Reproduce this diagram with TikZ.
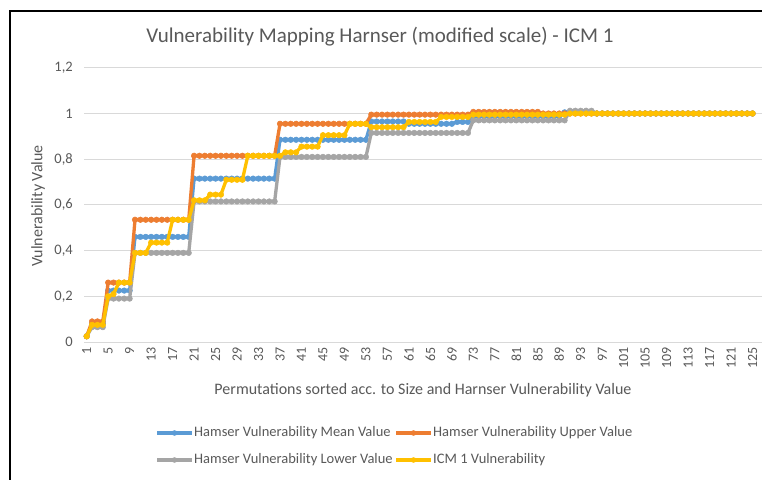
\documentclass[tikz,border=0pt]{standalone}
\usepackage{fontspec}
\setmainfont{Carlito}
\definecolor{cblue}{HTML}{5B9BD5}
\definecolor{corange}{HTML}{ED7D31}
\definecolor{cgray}{HTML}{A5A5A5}
\definecolor{cyellow}{HTML}{FFC000}
\definecolor{ctext}{HTML}{595959}
\definecolor{cgrid}{HTML}{D9D9D9}

% Expand a list of runs first/last/value into a coordinate list
\def\mkseries#1#2{%
  \gdef\tmplist{}%
  \foreach \a/\b/\v in {#2}{%
    \foreach \i in {\a,...,\b}{%
      \xdef\tmplist{\tmplist (\i,\v)}%
    }%
  }%
  \global\let#1\tmplist
}
% Draw one series as a thick line with round markers
\def\drawseries#1#2{%
  \edef\tmpcmd{\noexpand\draw[series,#2] plot[mark=*,mark size=2.8pt,
    mark options={line width=0.5pt,fill=#2}] coordinates {#1};}%
  \tmpcmd
}
% category spacing and left edge of the plot area
\def\catw{5.37}
\def\plotx{84}

\begin{document}
\begin{tikzpicture}[x=1pt,y=1pt,
  series/.style={line width=3.3pt,line join=round},
  gridline/.style={cgrid,line width=0.9pt},
  ticklbl/.style={text=ctext,inner sep=0pt,font=\fontsize{14}{16}\selectfont},
  axtitle/.style={text=ctext,inner sep=0pt,font=\fontsize{16}{19}\selectfont},
  legtext/.style={text=ctext,inner sep=0pt,anchor=west,font=\fontsize{14.5}{17}\selectfont},
  legline/.style={line width=3.2pt}]
\useasboundingbox (0,0) rectangle (762,479);
\fill[white] (0,0) rectangle (762,479);

% outer frame (left and top edges)
\draw[line width=2pt] (10,-2) -- (10,468) -- (764,468);

% title
\node[text=ctext,inner sep=0pt,font=\fontsize{21}{25}\selectfont] (title) at (380,442)
  {Vulnerability Mapping Harnser (modified scale) - ICM 1};

% horizontal gridlines and value labels
\foreach \v/\t [count=\k] in {0/0,0.2/{0,2},0.4/{0,4},0.6/{0,6},0.8/{0,8},1/1,1.2/{1,2}}{
  \draw[gridline] (\plotx,{137+228.5*\v}) -- (762,{137+228.5*\v});
  \node[ticklbl,font=\fontsize{14.5}{17}\selectfont,anchor=east] (yl\k) at (73,{137+228.5*\v}) {\t};
}

% category labels
\foreach \i in {1,5,...,125}{
  \node[ticklbl,rotate=90,anchor=east] (xl\i) at ({\plotx+(\i-0.5)*\catw},132) {\i};
}

% axis titles
\node[axtitle] (xtitle) at (423,89)
  {Permutations sorted acc. to Size and Harnser Vulnerability Value};
\node[axtitle,rotate=90] (ytitle) at (38,273) {Vulnerability Value};

% data series
\mkseries\seriesmean{1/1/0.025,2/4/0.08,5/9/0.225,10/20/0.46,21/36/0.715,37/53/0.885,
  54/60/0.965,61/69/0.955,70/72/0.963,73/89/0.988,90/95/1.005,96/125/1.0}
\mkseries\seriesupper{1/1/0.025,2/4/0.09,5/9/0.26,10/20/0.535,21/36/0.815,37/53/0.955,
  54/72/0.995,73/85/1.007,86/125/1.0}
\mkseries\serieslower{1/1/0.025,2/4/0.065,5/9/0.19,10/20/0.39,21/36/0.615,37/53/0.81,
  54/72/0.915,73/90/0.97,91/95/1.012,96/125/1.0}
\mkseries\seriesicm{1/1/0.025,2/4/0.075,5/5/0.2,6/6/0.21,7/9/0.26,10/12/0.39,13/16/0.435,
  17/20/0.535,21/23/0.62,24/26/0.645,27/30/0.71,31/37/0.815,38/40/0.83,41/44/0.855,
  45/49/0.905,50/53/0.955,54/60/0.94,61/66/0.963,67/72/0.985,73/90/0.995,91/125/1.0}

\begin{scope}[xshift={(\plotx-0.5*\catw)*1pt},yshift=137pt,x=\catw pt,y=228.5pt]
  \drawseries{\seriesmean}{cblue}
  \drawseries{\seriesupper}{corange}
  \drawseries{\serieslower}{cgray}
  \drawseries{\seriesicm}{cyellow}
\end{scope}

% legend
\foreach \c/\x/\y/\t/\n in {cblue/157/46/{Hamser Vulnerability Mean Value}/lmean,
    corange/396/46/{Hamser Vulnerability Upper Value}/lupper,
    cgray/157/19/{Hamser Vulnerability Lower Value}/llower,
    cyellow/396/19/{ICM 1 Vulnerability}/licm}{
  \draw[legline,\c] (\x,\y) -- ++(35,0);
  \fill[\c] ({\x+17.5},\y) circle (2.8pt);
  \node[legtext] (\n) at ({\x+37},\y) {\t};
}
\end{tikzpicture}
\end{document}
